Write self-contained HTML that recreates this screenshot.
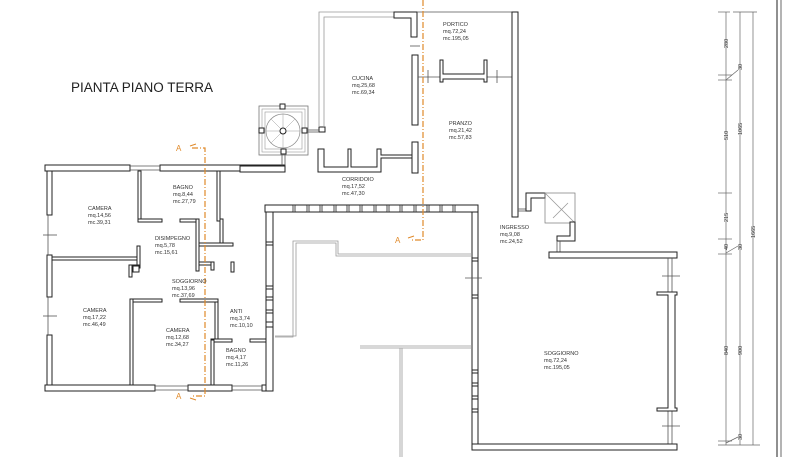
<!DOCTYPE html>
<html><head><meta charset="utf-8"><style>
html,body{margin:0;padding:0;background:#fff;}
svg{display:block;}
text{font-family:"Liberation Sans",sans-serif;fill:#333;}
.r{font-size:5.5px;}
.w{fill:#fff;stroke:#222;stroke-width:1;}
.t{fill:none;stroke:#555;stroke-width:0.8;}
.g{fill:none;stroke:#999;stroke-width:0.8;}
.o{fill:none;stroke:#e08a2a;stroke-width:1.2;stroke-dasharray:6,2,1,2;}
.ot{fill:#e08a2a;font-size:8px;}
</style></head><body>
<svg width="800" height="457" viewBox="0 0 800 457" xmlns="http://www.w3.org/2000/svg">
<rect width="800" height="457" fill="#fff"/>
<text x="71" y="92" style="font-size:13.5px;fill:#222">PIANTA PIANO TERRA</text>

<!-- LEFT BLOCK -->
<rect class="w" x="45" y="165" width="85" height="6"/>
<rect class="w" x="160" y="165" width="125" height="6"/>
<line class="t" x1="130" y1="166" x2="160" y2="166"/><line class="t" x1="130" y1="170" x2="160" y2="170"/>
<rect class="w" x="47" y="171" width="5" height="44"/>
<rect class="w" x="47" y="255" width="5" height="42"/>
<rect class="w" x="47" y="335" width="5" height="52"/>
<line class="t" x1="48" y1="215" x2="48" y2="255"/><line class="t" x1="48" y1="297" x2="48" y2="335"/>
<line class="t" x1="43" y1="235" x2="57" y2="235"/><line class="t" x1="43" y1="316" x2="57" y2="316"/>
<rect class="w" x="45" y="385" width="110" height="6"/>
<rect class="w" x="188" y="385" width="44" height="6"/>
<rect class="w" x="262" y="385" width="10" height="6"/>
<line class="t" x1="155" y1="386" x2="188" y2="386"/><line class="t" x1="155" y1="390" x2="188" y2="390"/>
<line class="t" x1="232" y1="386" x2="262" y2="386"/><line class="t" x1="232" y1="390" x2="262" y2="390"/>
<!-- interior -->
<rect class="w" x="138" y="171" width="3" height="51"/>
<rect class="w" x="138" y="219" width="24" height="3"/>
<rect class="w" x="180" y="219" width="18" height="3"/>
<rect class="w" x="196" y="219" width="3" height="52"/>
<rect class="w" x="217" y="171" width="3" height="50"/>
<rect class="w" x="220" y="219" width="3" height="26"/>
<rect class="w" x="199" y="243" width="34" height="3"/>
<rect class="w" x="199" y="262" width="15" height="3"/>
<rect class="w" x="211" y="262" width="3" height="8"/>
<rect class="w" x="231" y="262" width="3" height="10"/>
<rect class="w" x="52" y="257" width="88" height="3"/>
<rect class="w" x="137" y="246" width="3" height="22"/>
<rect class="w" x="129" y="265" width="11" height="3"/>
<rect class="w" x="129" y="265" width="3" height="12"/>
<rect class="w" x="133" y="266" width="6" height="6"/>
<rect class="w" x="130" y="299" width="32" height="3"/>
<rect class="w" x="180" y="299" width="38" height="3"/>
<rect class="w" x="130" y="299" width="3" height="86"/>
<rect class="w" x="215" y="302" width="3" height="38"/>
<rect class="w" x="211" y="339" width="21" height="3"/>
<rect class="w" x="250" y="339" width="18" height="3"/>
<rect class="w" x="211" y="340" width="3" height="45"/>
<rect class="w" x="266" y="205" width="7" height="186"/>
<rect class="w" x="266" y="242" width="7" height="3"/><rect class="w" x="266" y="286" width="7" height="3"/>
<rect class="w" x="266" y="297" width="7" height="3"/><rect class="w" x="266" y="310" width="7" height="3"/>
<rect class="w" x="266" y="322" width="7" height="5"/>

<!-- MIDDLE BLOCK -->
<rect class="w" x="265" y="205" width="213" height="7"/>
<g fill="#fff" stroke="#222" stroke-width="0.8">
<rect x="293" y="205" width="2" height="7"/><rect x="307" y="205" width="2" height="7"/><rect x="320" y="205" width="2" height="7"/>
<rect x="334" y="205" width="2" height="7"/><rect x="347" y="205" width="2" height="7"/><rect x="360" y="205" width="2" height="7"/>
<rect x="374" y="205" width="2" height="7"/><rect x="387" y="205" width="2" height="7"/><rect x="400" y="205" width="2" height="7"/>
<rect x="414" y="205" width="2" height="7"/><rect x="427" y="205" width="2" height="7"/><rect x="440" y="205" width="2" height="7"/>
<rect x="453" y="205" width="2" height="7"/>
</g>
<rect class="w" x="472" y="212" width="6" height="238"/>
<rect class="w" x="472" y="258" width="6" height="3"/><rect class="w" x="472" y="295" width="6" height="3"/>
<rect class="w" x="472" y="370" width="6" height="3"/><rect class="w" x="472" y="383" width="6" height="3"/>
<rect class="w" x="472" y="396" width="6" height="3"/><rect class="w" x="472" y="409" width="6" height="3"/>
<polyline class="g" points="275,337 293,337 293,241 338,241 338,254 472,254"/>
<polyline class="g" points="275,336 296,336 296,243 336,243 336,256 472,256"/>
<line class="g" x1="360" y1="346" x2="472" y2="346"/>
<line class="g" x1="360" y1="348" x2="472" y2="348"/>
<line class="g" x1="400" y1="348" x2="400" y2="457"/><line class="g" x1="402" y1="348" x2="402" y2="457"/>
<line class="t" x1="465" y1="278" x2="482" y2="278"/>

<!-- STAIR -->
<rect x="259" y="106" width="49" height="49" fill="none" stroke="#777" stroke-width="0.8"/>
<rect x="262" y="109" width="43" height="43" fill="none" stroke="#999" stroke-width="0.6"/>
<rect x="265" y="112" width="37" height="37" fill="none" stroke="#999" stroke-width="0.6"/>
<circle cx="283" cy="131" r="17" fill="none" stroke="#888" stroke-width="0.7"/>
<g stroke="#999" stroke-width="0.5">
<line x1="283" y1="131" x2="283" y2="114"/><line x1="283" y1="131" x2="271" y2="119"/>
<line x1="283" y1="131" x2="266" y2="131"/><line x1="283" y1="131" x2="271" y2="143"/>
<line x1="283" y1="131" x2="295" y2="119"/><line x1="283" y1="131" x2="300" y2="131"/>
<line x1="283" y1="131" x2="283" y2="148"/></g>
<circle cx="283" cy="131" r="3" class="w"/>
<rect class="w" x="280" y="104" width="5" height="5"/><rect class="w" x="259" y="128" width="5" height="5"/>
<rect class="w" x="281" y="149" width="5" height="5"/><rect class="w" x="302" y="128" width="5" height="5"/>
<rect class="w" x="319" y="127" width="6" height="5"/>
<line class="t" x1="307" y1="130" x2="319" y2="130"/><line class="t" x1="307" y1="132" x2="319" y2="132"/>
<line class="t" x1="282" y1="154" x2="282" y2="166"/><line class="t" x1="285" y1="154" x2="285" y2="166"/>
<rect class="w" x="240" y="166" width="45" height="6"/>

<!-- KITCHEN -->
<polyline class="g" points="319,127 319,12 394,12"/>
<polyline class="g" points="324,127 324,17 394,17"/>
<path class="w" d="M394 12 H417 V37 H411 V18 H394 Z"/>
<rect class="w" x="412" y="55" width="6" height="70"/>
<line class="t" x1="410" y1="46" x2="420" y2="46"/>
<rect class="w" x="412" y="142" width="6" height="31"/>
<path class="w" d="M318 149 H324 V167 H348 V149 H351 V167 H377 V149 H381 V155 H412 V158 H381 V172 H318 Z"/>
<line class="t" x1="417" y1="12" x2="512" y2="12"/>
<line class="t" x1="418" y1="77" x2="512" y2="77"/>
<line class="t" x1="428" y1="70" x2="428" y2="83"/><line class="t" x1="497" y1="70" x2="497" y2="83"/>
<path class="w" d="M440 60 H443 V74 H484 V60 H487 V82 H484 V79 H443 V82 H440 Z"/>
<rect class="w" x="512" y="12" width="6" height="205"/>
<!-- ingresso -->
<line class="t" x1="518" y1="209" x2="528" y2="209"/><line class="t" x1="518" y1="211" x2="528" y2="211"/>
<path class="w" d="M526 193 H545 V198 H531 V211 H526 Z"/>
<rect x="545" y="193" width="30" height="30" fill="none" stroke="#777" stroke-width="0.7"/>
<line class="g" x1="545" y1="193" x2="575" y2="223"/><line class="g" x1="553" y1="218" x2="568" y2="203"/>
<path class="w" d="M570 222 H575 V241 H557 V236 H570 Z"/>
<line class="t" x1="557" y1="241" x2="557" y2="252"/><line class="t" x1="560" y1="241" x2="560" y2="252"/>
<rect class="w" x="549" y="252" width="128" height="6"/>
<line class="t" x1="668" y1="258" x2="668" y2="445"/><line class="t" x1="672" y1="258" x2="672" y2="445"/>
<line class="t" x1="662" y1="276" x2="680" y2="276"/><line class="t" x1="662" y1="426" x2="680" y2="426"/>
<path class="w" d="M657 292 H677 V295 H675 V408 H677 V411 H657 V408 H668 V295 H657 Z"/>
<rect class="w" x="472" y="444" width="205" height="6"/>

<!-- DIMENSIONS -->
<g stroke="#666" stroke-width="0.7" fill="none">
<line x1="726" y1="12" x2="726" y2="445"/><line x1="740" y1="12" x2="740" y2="445"/><line x1="753" y1="12" x2="753" y2="445"/>
<line x1="718" y1="12" x2="730" y2="12"/><line x1="733" y1="12" x2="757" y2="12"/>
<line x1="718" y1="75" x2="732" y2="75"/><line x1="718" y1="80" x2="732" y2="80"/>
<line x1="718" y1="193" x2="732" y2="193"/><line x1="718" y1="239" x2="732" y2="239"/><line x1="718" y1="254" x2="732" y2="254"/>
<line x1="718" y1="441" x2="732" y2="441"/><line x1="718" y1="445" x2="760" y2="445"/>
<line x1="726" y1="80" x2="738" y2="70"/><line x1="726" y1="253" x2="738" y2="246"/><line x1="726" y1="443" x2="738" y2="437"/>
</g>
<g font-size="5.5" fill="#444" style="font-family:'Liberation Sans',sans-serif">
<text transform="translate(728,48) rotate(-90)">280</text>
<text transform="translate(742,70) rotate(-90)">30</text>
<text transform="translate(728,140) rotate(-90)">510</text>
<text transform="translate(742,135) rotate(-90)">1065</text>
<text transform="translate(728,222) rotate(-90)">215</text>
<text transform="translate(755,238) rotate(-90)">1665</text>
<text transform="translate(728,250) rotate(-90)">40</text>
<text transform="translate(742,250) rotate(-90)">30</text>
<text transform="translate(728,355) rotate(-90)">840</text>
<text transform="translate(742,355) rotate(-90)">900</text>
<text transform="translate(742,440) rotate(-90)">30</text>
</g>
<line x1="777" y1="0" x2="777" y2="457" stroke="#222" stroke-width="1"/>
<line x1="781" y1="0" x2="781" y2="457" stroke="#444" stroke-width="0.8"/>

<!-- SECTION LINES -->
<polyline class="o" points="192,148 205,148 205,396 192,396"/>
<polyline class="o" points="423,0 423,240 410,240"/>
<g stroke="#e08a2a" stroke-width="1" fill="none">
<path d="M190 146 L196 144"/><path d="M190 398 L196 400"/><path d="M408 238 L414 236"/></g>
<text class="ot" x="176" y="151">A</text>
<text class="ot" x="176" y="399">A</text>
<text class="ot" x="395" y="243">A</text>

<!-- LABELS -->
<g class="r">
<text x="88" y="210">CAMERA</text><text x="88" y="217">mq.14,56</text><text x="88" y="224">mc.39,31</text>
<text x="173" y="189">BAGNO</text><text x="173" y="196">mq.8,44</text><text x="173" y="203">mc.27,79</text>
<text x="155" y="240">DISIMPEGNO</text><text x="155" y="247">mq.5,78</text><text x="155" y="254">mc.15,61</text>
<text x="172" y="283">SOGGIORNO</text><text x="172" y="290">mq.13,96</text><text x="172" y="297">mc.37,69</text>
<text x="83" y="312">CAMERA</text><text x="83" y="319">mq.17,22</text><text x="83" y="326">mc.46,49</text>
<text x="166" y="332">CAMERA</text><text x="166" y="339">mq.12,68</text><text x="166" y="346">mc.34,27</text>
<text x="230" y="313">ANTI</text><text x="230" y="320">mq.3,74</text><text x="230" y="327">mc.10,10</text>
<text x="226" y="352">BAGNO</text><text x="226" y="359">mq.4,17</text><text x="226" y="366">mc.11,26</text>
<text x="352" y="80">CUCINA</text><text x="352" y="87">mq.25,68</text><text x="352" y="94">mc.69,34</text>
<text x="342" y="181">CORRIDOIO</text><text x="342" y="188">mq.17,52</text><text x="342" y="195">mc.47,30</text>
<text x="443" y="26">PORTICO</text><text x="443" y="33">mq.72,24</text><text x="443" y="40">mc.195,05</text>
<text x="449" y="125">PRANZO</text><text x="449" y="132">mq.21,42</text><text x="449" y="139">mc.57,83</text>
<text x="500" y="229">INGRESSO</text><text x="500" y="236">mq.9,08</text><text x="500" y="243">mc.24,52</text>
<text x="544" y="355">SOGGIORNO</text><text x="544" y="362">mq.72,24</text><text x="544" y="369">mc.195,05</text>
</g>
</svg>
</body></html>
